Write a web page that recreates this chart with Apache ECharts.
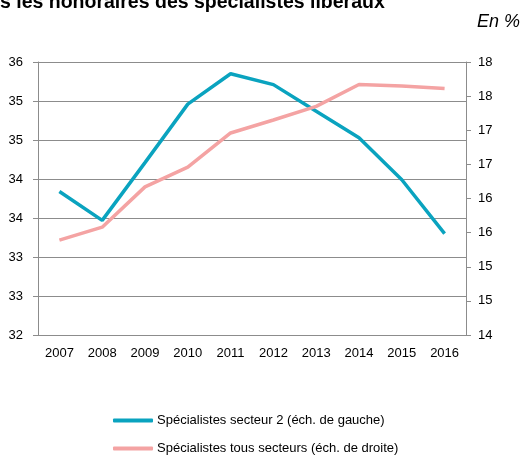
<!DOCTYPE html>
<html><head><meta charset="utf-8">
<script src="https://cdn.jsdelivr.net/npm/echarts@6/dist/echarts.min.js"></script>
<style>html,body{margin:0;padding:0;background:#fff}#c{width:523px;height:458px}</style>
</head><body><div id="c"></div>
<script>
const years = ['2007','2008','2009','2010','2011','2012','2013','2014','2015','2016'];
const secteur2 = [33.84, 33.47, 34.21, 34.96, 35.35, 35.21, 34.87, 34.53, 33.99, 33.30];
const tousSecteurs = [15.39, 15.58, 16.17, 16.46, 16.96, 17.15, 17.35, 17.67, 17.65, 17.61];
const seriesNames = ['Spécialistes secteur 2 (éch. de gauche)', 'Spécialistes tous secteurs (éch. de droite)'];
const titleText = 's les honoraires des spécialistes libéraux';
const unitText = 'En %';

const chart = echarts.init(document.getElementById('c'));
const font = '"Liberation Sans", Arial, sans-serif';
const axisGrey = '#8c8c8c';
chart.setOption({
  animation: false,
  textStyle: {fontFamily: font},
  graphic: [
    {type: 'text', left: 0, top: -7, style: {text: titleText, font: 'bold 19.5px ' + font, fill: '#000'}},
    {type: 'text', right: 3, top: 13, style: {text: unitText, font: 'italic 18px ' + font, fill: '#000'}}
  ],
  grid: {left: 38, right: 57, top: 62, bottom: 123},
  legend: {
    orient: 'vertical', left: 113, top: 414, padding: 0, itemWidth: 40, itemHeight: 4, itemGap: 15,
    icon: 'roundRect',
    textStyle: {fontSize: 13, color: '#000', fontFamily: font, padding: [0,0,0,-1]},
    data: seriesNames
  },
  xAxis: {
    type: 'category', data: years, boundaryGap: true,
    axisLine: {lineStyle: {color: axisGrey, width: 1}},
    axisTick: {inside: true, length: 5, lineStyle: {color: axisGrey}},
    axisLabel: {color: '#000', fontSize: 13, interval: 0, margin: 12}
  },
  yAxis: [
    {type: 'value', min: 32, max: 35.5, interval: 0.5, position: 'left',
     axisLine: {show: true, lineStyle: {color: axisGrey}},
     axisTick: {show: true, length: 5, lineStyle: {color: axisGrey}},
     axisLabel: {color: '#000', fontSize: 13, margin: 15, formatter: v => String(Math.round(v))},
     splitLine: {show: true, lineStyle: {color: axisGrey, width: 1}}},
    {type: 'value', min: 14, max: 18, interval: 0.5, position: 'right',
     axisLine: {show: true, lineStyle: {color: axisGrey}},
     axisTick: {show: true, length: 5, lineStyle: {color: axisGrey}},
     axisLabel: {color: '#000', fontSize: 13, margin: 12, formatter: v => String(Math.round(v))},
     splitLine: {show: false}}
  ],
  series: [
    {name: seriesNames[0], type: 'line', yAxisIndex: 0, data: secteur2, showSymbol: false,
     lineStyle: {color: '#0AA3BF', width: 3.5}, itemStyle: {color: '#0AA3BF'}},
    {name: seriesNames[1], type: 'line', yAxisIndex: 1, data: tousSecteurs, showSymbol: false,
     lineStyle: {color: '#F4A3A3', width: 3.5}, itemStyle: {color: '#F4A3A3'}}
  ]
});
</script></body></html>
